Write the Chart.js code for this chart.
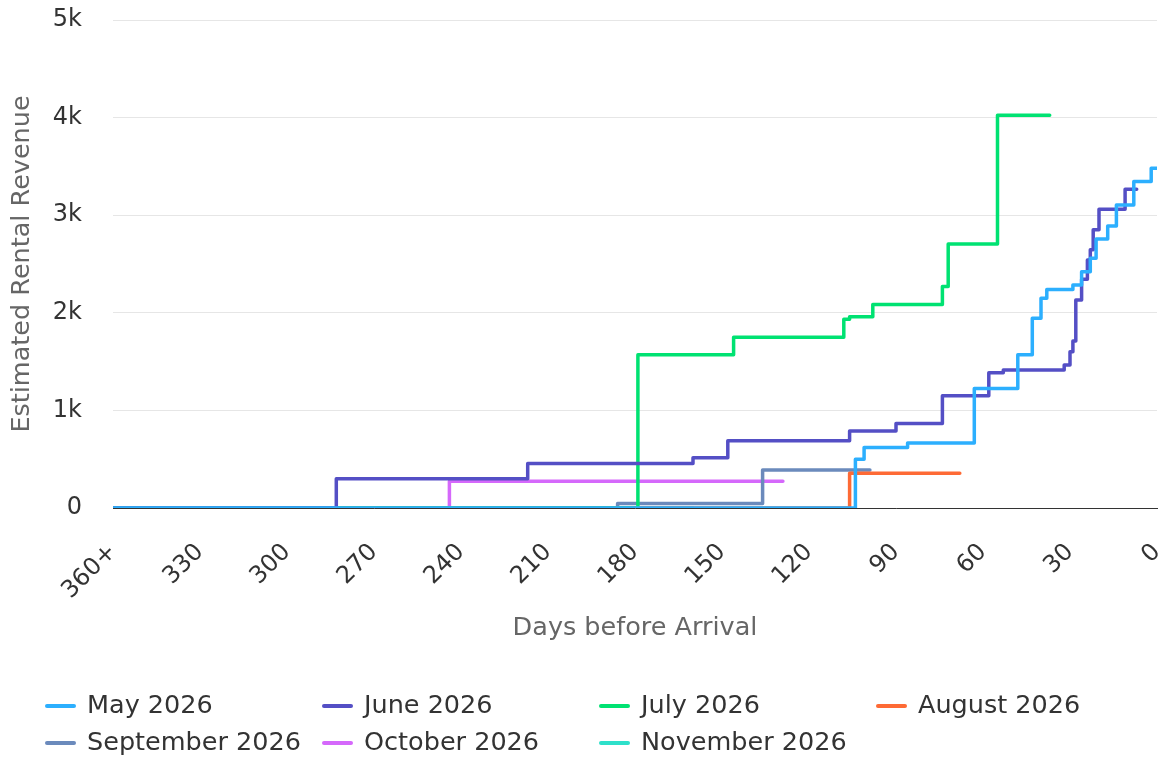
<!DOCTYPE html>
<html>
<head>
<meta charset="utf-8">
<script src="https://cdn.jsdelivr.net/npm/chart.js@4.4.1/dist/chart.umd.min.js"></script>
<style>
  html, body { margin: 0; padding: 0; background: #fff; }
  #wrap { width: 1167px; height: 760px; position: relative; }
</style>
</head>
<body>
<div id="wrap"><canvas id="chart"></canvas></div>
<script>
// Gün (varıştan önce) ve tahmini gelir — her ay için değişim noktaları
const mayDays   = [360, 104, 101, 86, 63, 48, 43, 40, 38, 29, 26, 23, 21, 17, 14, 8, 2, 0];
const mayValues = [0, 500, 620, 665, 1225, 1570, 1945, 2150, 2240, 2285, 2420, 2560, 2755, 2890, 3105, 3345, 3480, 3480];

const junDays   = [360, 283, 217, 160, 148, 106, 90, 74, 58, 53, 32, 30, 29, 28, 26, 24, 23, 22, 20, 11, 7];
const junValues = [0, 300, 455, 515, 690, 790, 865, 1150, 1385, 1415, 1465, 1600, 1710, 2130, 2345, 2540, 2645, 2850, 3060, 3265, 3265];

const julDays   = [360, 179, 146, 108, 106, 98, 74, 72, 55, 37];
const julValues = [0, 1570, 1750, 1935, 1960, 2085, 2270, 2705, 4025, 4025];

const augDays   = [360, 106, 68];
const augValues = [0, 355, 355];

const sepDays   = [360, 186, 136, 99];
const sepValues = [0, 45, 390, 390];

const octDays   = [360, 244, 129];
const octValues = [0, 275, 275];

const novDays   = [360, 160];
const novValues = [0, 0];

const seriesNames = ['May 2026', 'June 2026', 'July 2026', 'August 2026',
                     'September 2026', 'October 2026', 'November 2026'];
const seriesDays   = [mayDays, junDays, julDays, augDays, sepDays, octDays, novDays];
const seriesValues = [mayValues, junValues, julValues, augValues, sepValues, octValues, novValues];
const seriesColors = ['#2caffe', '#544fc5', '#00e272', '#fe6a35', '#6b8abc', '#d568fb', '#2ee0ca'];

const yTicks = [0, 1000, 2000, 3000, 4000, 5000];
const xMaxLabel = '360+';

const FONT = "'DejaVu Sans', Verdana, sans-serif";

const datasets = seriesNames.map((name, i) => ({
  label: name,
  data: seriesDays[i].map((d, j) => ({ x: d, y: seriesValues[i][j] })),
  borderColor: seriesColors[i],
  backgroundColor: seriesColors[i],
  borderWidth: 3.5,
  pointRadius: 0,
  stepped: true,
  borderJoinStyle: 'round',
  borderCapStyle: 'round',
  fill: false,
}));

// Alttaki 4 sütunlu lejant (canvas üzerine)
const gridLegend = {
  id: 'gridLegend',
  afterDraw(chart) {
    const ctx = chart.ctx;
    ctx.save();
    ctx.font = '25.5px ' + FONT;
    ctx.textBaseline = 'middle';
    chart.data.datasets.forEach((ds, i) => {
      const col = i % 4, row = Math.floor(i / 4);
      const x = 45 + col * 277;
      const y = 706 + row * 37;
      ctx.strokeStyle = ds.borderColor;
      ctx.lineWidth = 4;
      ctx.lineCap = 'round';
      ctx.beginPath();
      ctx.moveTo(x + 2, y);
      ctx.lineTo(x + 29, y);
      ctx.stroke();
      ctx.fillStyle = '#333333';
      ctx.fillText(ds.label, x + 42, y);
    });
    ctx.restore();
  }
};

new Chart(document.getElementById('chart'), {
  type: 'line',
  data: { datasets },
  plugins: [gridLegend],
  options: {
    responsive: true,
    maintainAspectRatio: false,
    animation: false,
    layout: { padding: { left: 0, right: 10, top: 20, bottom: 0 } },
    plugins: { legend: { display: false }, tooltip: { enabled: false } },
    scales: {
      x: {
        type: 'linear',
        reverse: true,
        min: 0,
        max: 360,
        grid: { display: false, drawTicks: false },
        border: { display: true, color: '#333333', width: 1 },
        ticks: {
          stepSize: 30,
          minRotation: 45,
          maxRotation: 45,
          padding: 30,
          color: '#333333',
          font: { family: FONT, size: 24 },
          callback: (v) => v === 360 ? xMaxLabel : String(v),
        },
        title: {
          display: true,
          text: 'Days before Arrival',
          color: '#666666',
          font: { family: FONT, size: 25.5 },
          padding: { top: 0, bottom: 116 },
        },
        afterFit: (s) => { s.height = 252; s.paddingLeft = 0; s.paddingRight = 0; s.paddingTop = 0; s.paddingBottom = 0; },
      },
      y: {
        min: 0,
        max: 5000,
        afterBuildTicks: (s) => { s.ticks = yTicks.map((v) => ({ value: v })); },
        grid: { color: '#e6e6e6', lineWidth: 1, drawTicks: false },
        border: { display: false },
        ticks: {
          padding: 31,
          color: '#333333',
          font: { family: FONT, size: 24 },
          callback: (v) => v === 0 ? '0' : (v / 1000) + 'k',
        },
        title: {
          display: true,
          text: 'Estimated Rental Revenue',
          color: '#666666',
          font: { family: FONT, size: 25.5 },
          padding: { top: 7, bottom: 0 },
        },
        afterFit: (s) => { s.width = 113; s.paddingTop = 0; s.paddingBottom = 0; },
      },
    },
  },
});
</script>
</body>
</html>
